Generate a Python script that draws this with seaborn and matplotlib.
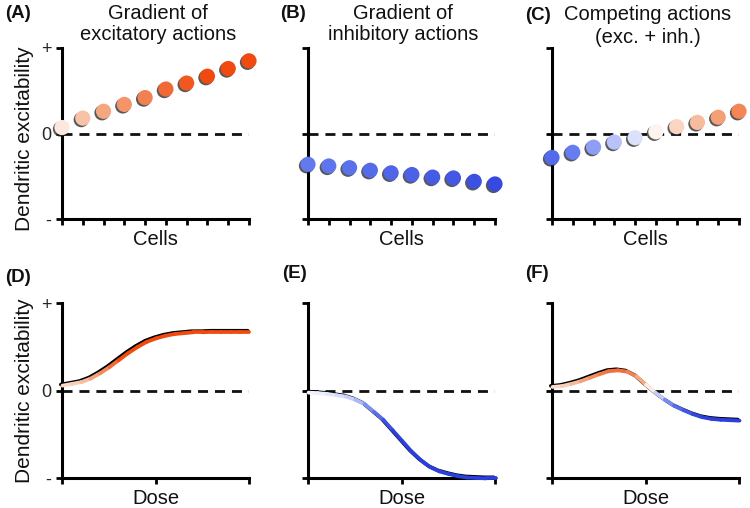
import matplotlib
matplotlib.use("Agg")
import numpy as np
import pandas as pd
import seaborn as sns
import matplotlib.pyplot as plt
from matplotlib.colors import LinearSegmentedColormap
from matplotlib.collections import LineCollection
from matplotlib.transforms import offset_copy
import matplotlib.patheffects as pe

# ---------------- data ----------------
cells = list(range(10))
exc_cells = [0.07, 0.18, 0.26, 0.34, 0.42, 0.52, 0.59, 0.67, 0.76, 0.85]
inh_cells = [-0.36, -0.38, -0.40, -0.43, -0.46, -0.48, -0.51, -0.52, -0.56, -0.59]
mix_cells = [-0.28, -0.22, -0.16, -0.10, -0.05, 0.02, 0.08, 0.13, 0.19, 0.26]

dose = [0.0, 0.05, 0.10, 0.15, 0.20, 0.25, 0.30, 0.35, 0.40, 0.45, 0.50,
        0.55, 0.60, 0.65, 0.70, 0.75, 0.80, 0.85, 0.90, 0.95, 1.0]
exc_dose = [0.06, 0.08, 0.10, 0.14, 0.20, 0.27, 0.35, 0.43, 0.50, 0.56, 0.60,
            0.63, 0.65, 0.66, 0.67, 0.67, 0.675, 0.675, 0.675, 0.675, 0.675]
inh_dose = [-0.02, -0.025, -0.035, -0.05, -0.065, -0.10, -0.15, -0.24, -0.33, -0.45, -0.57,
            -0.69, -0.79, -0.87, -0.92, -0.95, -0.975, -0.99, -0.995, -1.0, -1.0]
mix_dose = [0.045, 0.055, 0.08, 0.11, 0.15, 0.19, 0.225, 0.235, 0.22, 0.165, 0.07,
            -0.02, -0.10, -0.17, -0.22, -0.265, -0.30, -0.32, -0.33, -0.335, -0.34]

panel_letters = ["(A)", "(B)", "(C)", "(D)", "(E)", "(F)"]
titles = ["Gradient of\nexcitatory actions", "Gradient of\ninhibitory actions",
          "Competing actions\n(exc. + inh.)"]
ytick_labels = ["-", "0", "+"]
ylabel = "Dendritic excitability"

# ---------------- style ----------------
sns.set_theme(style="ticks")
plt.rcParams["font.family"] = ["Liberation Sans", "DejaVu Sans"]

cmap = LinearSegmentedColormap.from_list(
    "excinh",
    [(0.0, "#2b3fdc"), (0.25, "#6a80f0"), (0.5, "#ffffff"),
     (0.7, "#f4a880"), (1.0, "#f04a10")])

W, H = 750, 508
fig = plt.figure(figsize=(7.5, 5.08), dpi=100)


def add_ax(l, t, r, b):
    return fig.add_axes([l / W, 1 - b / H, (r - l) / W, (b - t) / H])


lefts = [62, 308, 552]
width = 187
top_axes = [add_ax(l, 48, l + width, 219) for l in lefts]
bot_axes = [add_ax(l, 303, l + width, 478) for l in lefts]

LABEL_FS = 14.5


def style(ax, first, xticks):
    sns.despine(ax=ax)
    for s in ["left", "bottom"]:
        ax.spines[s].set_linewidth(2.2)
        ax.spines[s].set_color("black")
    ax.set_ylim(-1, 1)
    ax.set_yticks([-1, 0, 1])
    ax.set_yticklabels(ytick_labels if first else ["", "", ""])
    ax.set_xticks(xticks)
    ax.set_xticklabels([""] * len(xticks))
    ax.tick_params(axis="both", direction="out", length=4.5, width=2,
                   color="black", labelsize=13, pad=3)
    ax.axhline(0, color="#111", lw=2.0, dashes=(3.6, 2.5), zorder=1)


# ---------------- top row: cells ----------------
cell_data = [exc_cells, inh_cells, mix_cells]
cell_norms = [(-0.65, 0.65), (-0.65, 0.65), (-0.42, 0.42)]
for i, ax in enumerate(top_axes):
    ax.set_xlim(0, 9)
    style(ax, i == 0, cells)
    df = pd.DataFrame({"cell": cells, "val": cell_data[i]})
    sns.scatterplot(data=df, x="cell", y="val", hue="val", palette=cmap,
                    hue_norm=cell_norms[i], s=120, linewidth=0,
                    legend=False, ax=ax, zorder=5, clip_on=False)
    ax.collections[-1].set_path_effects(
        [pe.SimplePatchShadow(offset=(-1.1, -1.1), shadow_rgbFace="#222222", alpha=0.75),
         pe.Normal()])
    ax.set_xlabel("Cells", fontsize=LABEL_FS, color="#111")
    ax.set_ylabel(ylabel if i == 0 else "", fontsize=15, color="#111")

# ---------------- bottom row: dose ----------------
dose_data = [exc_dose, inh_dose, mix_dose]
dose_norms = [(-0.4, 0.4), (-0.45, 0.45), (-0.3, 0.3)]
for i, ax in enumerate(bot_axes):
    ax.set_xlim(0, 1)
    style(ax, i == 0, [0, 0.5, 1])
    df = pd.DataFrame({"dose": dose, "val": dose_data[i]})
    tr_black = offset_copy(ax.transData, fig=fig, x=-1.2, y=0.7, units="dots")
    sns.lineplot(data=df, x="dose", y="val", color="black", lw=2.6, ax=ax,
                 zorder=3, transform=tr_black, clip_on=False)
    pts = np.column_stack([df["dose"].to_numpy(), df["val"].to_numpy()])
    segs = np.stack([pts[:-1], pts[1:]], axis=1)
    mids = (pts[:-1, 1] + pts[1:, 1]) / 2
    vmin, vmax = dose_norms[i]
    cols = cmap(np.clip((mids - vmin) / (vmax - vmin), 0, 1))
    lc = LineCollection(segs, colors=cols, linewidths=2.7, capstyle="round",
                        joinstyle="round", zorder=4,
                        transform=offset_copy(ax.transData, fig=fig, x=0.5, y=-0.4, units="dots"))
    lc.set_clip_on(False)
    ax.add_collection(lc)
    ax.set_xlabel("Dose", fontsize=LABEL_FS, color="#111")
    ax.set_ylabel(ylabel if i == 0 else "", fontsize=15, color="#111")

for ax in top_axes + bot_axes:
    ax.xaxis.set_label_coords(0.5, -0.065)
top_axes[0].yaxis.set_label_coords(-0.15, 0.47)
bot_axes[0].yaxis.set_label_coords(-0.15, 0.5)

# ---------------- texts ----------------
letter_pos = [(5, 14), (280, 14), (525, 16), (5, 277), (282, 274), (525, 274)]
for lab, (x, y) in zip(panel_letters, letter_pos):
    fig.text(x / W, 1 - y / H, lab, fontsize=13.5, fontweight="bold",
             ha="left", va="center", color="#111")

title_x = [158, 403, 648]
title_y = [24, 24, 26]
title_ls = [1.1, 1.1, 1.25]
for t, x, y, ls in zip(titles, title_x, title_y, title_ls):
    fig.text(x / W, 1 - y / H, t, fontsize=14.5, ha="center", va="center",
             linespacing=ls, color="#111")

fig.savefig("out.png", dpi=100)
